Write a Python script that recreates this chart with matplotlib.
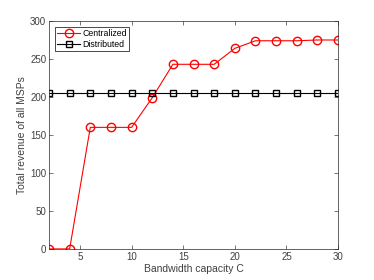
import matplotlib
matplotlib.use("Agg")
import matplotlib.pyplot as plt

capacity = [2, 4, 6, 8, 10, 12, 14, 16, 18, 20, 22, 24, 26, 28, 30]
centralized = [0, 0, 160, 160, 160, 199, 243, 243, 243, 264, 274, 274, 274, 275, 275]
distributed = [205] * 15

plt.rcParams['font.family'] = ['Liberation Sans', 'DejaVu Sans']
plt.rcParams['font.size'] = 7

fig = plt.figure(figsize=(3.74, 2.8), dpi=100)
ax = fig.add_axes([0.131, 0.111, 0.773, 0.814])

ax.plot(capacity, centralized, color='red', marker='o', markersize=6,
        markerfacecolor='none', linewidth=0.8, label='Centralized')
ax.plot(capacity, distributed, color='black', marker='s', markersize=5,
        markerfacecolor='none', linewidth=0.8, label='Distributed')

ax.set_xlim(2, 30)
ax.set_ylim(0, 300)
ax.set_xticks([5, 10, 15, 20, 25, 30])
ax.set_yticks([0, 50, 100, 150, 200, 250, 300])
ax.tick_params(direction='in', top=True, right=True, length=3, width=0.5,
               colors='#404040', labelsize=7, pad=2)
for s in ax.spines.values():
    s.set_linewidth(0.5)
    s.set_color('#262626')

ax.set_xlabel('Bandwidth capacity C', color='#404040', fontsize=7.5, labelpad=2)
ax.set_ylabel('Total revenue of all MSPs', color='#404040', fontsize=7.5, labelpad=2)

leg = ax.legend(loc='upper left', fontsize=6.3, fancybox=False, edgecolor='black',
                framealpha=1, handlelength=2.6, handletextpad=0.3,
                borderaxespad=0.7, labelspacing=0.15, borderpad=0.25)
leg.get_frame().set_linewidth(0.5)

fig.savefig('out.png', dpi=100)
